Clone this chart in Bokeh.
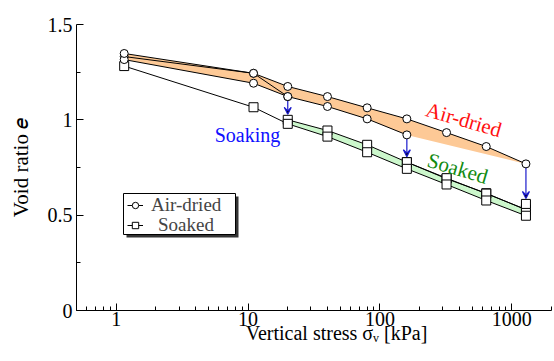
import numpy as np
from bokeh.plotting import figure
from bokeh.models import (Range1d, FixedTicker, Label, Arrow, VeeHead, ColumnDataSource,
                          Legend, LegendItem, BoxAnnotation)
from bokeh.embed import file_html
from bokeh.resources import INLINE

# ---------------- data ----------------
# air-dried samples (circles)
airA_x = [1.15, 11, 20]
airA_e = [1.332, 1.244, 1.122]
airB_x = [1.15, 11, 20, 40, 80, 160]
airB_e = [1.316, 1.192, 1.122, 1.070, 1.005, 0.921]
airC_x = [1.15, 11, 20, 40, 80, 160, 320, 640, 1280]
airC_e = [1.348, 1.244, 1.175, 1.122, 1.063, 1.005, 0.933, 0.860, 0.769]

# soaked samples (squares)
soakA_x = [20, 40, 80, 160, 320, 640, 1280]
soakA_e = [1.000, 0.944, 0.869, 0.778, 0.691, 0.615, 0.528]
soakB_x = [160, 320, 640, 1280]
soakB_e = [0.778, 0.694, 0.613, 0.530]
soakC_x = [1280]
soakC_e = [0.559]
soakD_x = [1.15, 11, 20, 40, 80, 160, 320, 640, 1280]
soakD_e = [1.282, 1.066, 0.979, 0.912, 0.830, 0.743, 0.661, 0.577, 0.497]

# soaking steps (arrows)
soak_stress = [20, 160, 1280]
soak_from = [1.122, 0.921, 0.769]
soak_to = [1.000, 0.778, 0.559]

# envelopes for the shaded bands
air_band_lower_x = [1.15, 11, 20, 40, 80, 160, 1280]
air_band_lower = [1.316, 1.192, 1.122, 1.070, 1.005, 0.921, 0.769]
soak_band_x = [20, 40, 80, 160, 320, 640, 1280]
soak_band_upper = [1.000, 0.944, 0.869, 0.778, 0.691, 0.615, 0.528]
soak_band_lower = [0.979, 0.912, 0.830, 0.743, 0.661, 0.577, 0.497]

x_ticks = [1, 10, 100, 1000]
x_tick_labels = ["1", "10", "100", "1000"]
y_ticks = [0, 0.5, 1, 1.5]
y_tick_labels = ["0", "0.5", "1", "1.5"]
y_minor = [0.25, 0.75, 1.25]

FONT = "Liberation Serif"
NB = "\u00a0"

p = figure(width=554, height=361, x_axis_type="log",
           x_range=Range1d(0.5, 2000), y_range=Range1d(0, 1.5),
           output_backend="svg", toolbar_location=None,
           min_border_left=76, min_border_right=3, min_border_top=24, min_border_bottom=51)
p.outline_line_color = None
p.xgrid.visible = False
p.ygrid.visible = False
p.background_fill_color = "white"
p.border_fill_color = "white"

# ---- bands ----
p.patch(list(airC_x) + list(air_band_lower_x[::-1]), list(airC_e) + list(air_band_lower[::-1]),
        fill_color="#FDC996", line_color=None)
p.varea(x=soak_band_x, y1=soak_band_lower, y2=soak_band_upper, fill_color="#CCF7CC")

# ---- arrows ----
yscale = 1.5 / 286.0
src_ar = ColumnDataSource(dict(x=soak_stress, y0=soak_from,
                               y1=[v + 5.5 * yscale for v in soak_to]))
p.add_layout(Arrow(x_start="x", y_start="y0", x_end="x", y_end="y1", source=src_ar,
                   line_color="#1a1acc", line_width=1.2, level="underlay",
                   end=VeeHead(size=7, line_color="#1a1acc", line_width=1.2)))

# ---- lines ----
line_r = {}
for name, xs, ys in [("A", airA_x, airA_e), ("B", airB_x, airB_e), ("C", airC_x, airC_e),
                     ("sA", soakA_x, soakA_e), ("sB", soakB_x, soakB_e), ("sD", soakD_x, soakD_e)]:
    line_r[name] = p.line(xs, ys, line_color="black", line_width=1)

# ---- markers ----
mark_r = {}
for name, xs, ys in [("sA", soakA_x, soakA_e), ("sB", soakB_x, soakB_e),
                     ("sC", soakC_x, soakC_e), ("sD", soakD_x, soakD_e)]:
    mark_r[name] = p.scatter(xs, ys, marker="square", size=9, fill_color="white",
                             line_color="black", line_width=1)
for name, xs, ys in [("A", airA_x, airA_e), ("B", airB_x, airB_e), ("C", airC_x, airC_e)]:
    mark_r[name] = p.scatter(xs, ys, marker="circle", size=8, fill_color="white",
                             line_color="black", line_width=1)

# ---- axes ----
for ax in (p.xaxis[0], p.yaxis[0]):
    ax.axis_line_color = "black"
    ax.major_tick_line_color = "black"
    ax.minor_tick_line_color = "black"
    ax.major_tick_out = 0
    ax.major_tick_in = 7
    ax.minor_tick_out = 0
    ax.minor_tick_in = 4
    ax.major_label_text_font = FONT
    ax.major_label_text_font_size = "20px"
    ax.major_label_text_color = "black"
    ax.axis_label_text_font = FONT
    ax.axis_label_text_font_size = "20px"
    ax.axis_label_text_font_style = "normal"
    ax.axis_label_text_color = "black"

minor_x = []
for dec in [0.1, 1, 10, 100, 1000]:
    for k in range(2, 10):
        v = k * dec
        if 0.5 <= v <= 2000:
            minor_x.append(v)
p.xaxis.ticker = FixedTicker(ticks=x_ticks, minor_ticks=minor_x)
p.xaxis.major_label_overrides = {t: l for t, l in zip(x_ticks, x_tick_labels)}
p.xaxis.major_label_standoff = 1
p.xaxis.axis_label = NB * 9 + "Vertical stress \u03c3\u1d65 [kPa]"
p.xaxis.axis_label_standoff = -7

p.yaxis.ticker = FixedTicker(ticks=y_ticks, minor_ticks=y_minor)
p.yaxis.major_label_overrides = {t: l for t, l in zip(y_ticks, y_tick_labels)}
p.yaxis.major_label_standoff = 4
p.yaxis.axis_label = "Void ratio \U0001D452"
p.yaxis.axis_label_text_font_size = "21px"
p.yaxis.axis_label_standoff = 12

# ---- annotations ----
p.add_layout(Label(x=9.9, y=0.918, text="Soaking", text_font=FONT, text_font_size="20px",
                   text_color="#1010ff", text_align="center", text_baseline="alphabetic"))
p.add_layout(Label(x=432, y=1.0, text="Air-dried", text_font=FONT, text_font_size="21px",
                   text_color="#ff1010", text_align="center", text_baseline="middle",
                   angle=-0.28))
p.add_layout(Label(x=389, y=0.745, text="Soaked", text_font=FONT, text_font_size="21px",
                   text_color="#118a11", text_align="center", text_baseline="middle",
                   angle=-0.29))

# ---- legend (shadow + frame + one legend per row) ----
box_kw = dict(left_units="screen", right_units="screen",
              bottom_units="screen", top_units="screen")
p.add_layout(BoxAnnotation(left=50, right=162, bottom=73, top=114,
                           fill_color="#333333", fill_alpha=1, line_color=None, **box_kw))
p.add_layout(BoxAnnotation(left=47, right=159, bottom=76, top=117,
                           fill_color="white", fill_alpha=1, line_color="black",
                           line_width=1, line_alpha=1, **box_kw))

leg_kw = dict(orientation="vertical", label_text_font=FONT, label_text_font_size="19px",
              glyph_width=16, glyph_height=16, label_height=16, spacing=0, padding=0,
              margin=0, border_line_color=None, background_fill_alpha=0)
p.add_layout(Legend(items=[LegendItem(label="Air-dried", renderers=[line_r["C"], mark_r["C"]])],
                    location=(51, 94), label_standoff=8, **leg_kw))
p.add_layout(Legend(items=[LegendItem(label="Soaked", renderers=[line_r["sD"], mark_r["sD"]])],
                    location=(51, 74), label_standoff=15, **leg_kw))

open("out.html", "w").write(file_html(p, INLINE))
